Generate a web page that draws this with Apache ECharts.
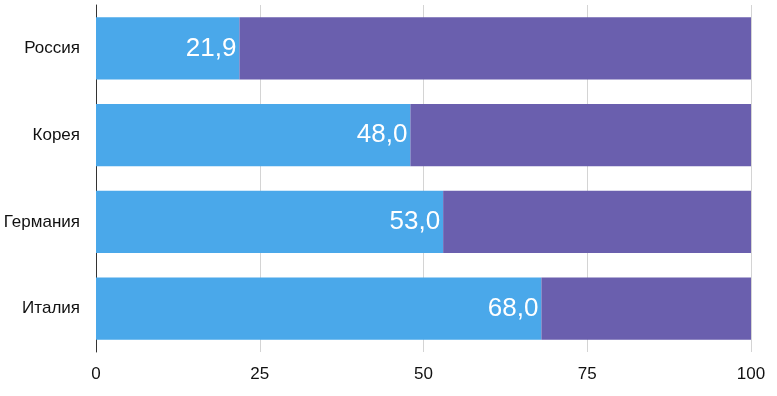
<!DOCTYPE html>
<html>
<head>
<meta charset="utf-8">
<script src="https://cdn.jsdelivr.net/npm/echarts@6/dist/echarts.min.js"></script>
<style>html,body{margin:0;padding:0;background:#fff}#c{width:777px;height:396px}</style>
</head>
<body>
<div id="c"></div>
<script>
var categories = ['Россия', 'Корея', 'Германия', 'Италия'];
var shareValues = [21.9, 48.0, 53.0, 68.0];
var totalValues = [100, 100, 100, 100];
var xTicks = [0, 25, 50, 75, 100];

var restValues = shareValues.map(function (v, i) { return +(totalValues[i] - v).toFixed(1); });

var chart = echarts.init(document.getElementById('c'));
chart.setOption({
  animation: false,
  grid: { left: 96, right: 26, top: 5, bottom: 44, containLabel: false },
  xAxis: {
    type: 'value', min: 0, max: 100, interval: 25,
    axisLine: { show: false },
    axisTick: { show: false },
    splitLine: { show: true, lineStyle: { color: '#d4d4d4', width: 1 } },
    axisLabel: {
      color: '#111', fontSize: 17, fontFamily: 'Liberation Sans, Arial, sans-serif', margin: 14,
      formatter: function (v) { return xTicks.indexOf(v) >= 0 ? String(v) : ''; }
    }
  },
  yAxis: {
    type: 'category', data: categories, inverse: true,
    axisLine: { show: true, lineStyle: { color: '#333', width: 1 } },
    axisTick: { show: false },
    axisLabel: { color: '#111', fontSize: 17, fontFamily: 'Liberation Sans, Arial, sans-serif', margin: 16 }
  },
  series: [
    {
      type: 'bar', stack: 'a', data: shareValues, barCategoryGap: '28.5%',
      itemStyle: { color: '#4aa8ea' },
      label: {
        show: true, position: 'insideRight', distance: 3, color: '#fff', fontSize: 26,
        fontFamily: 'Liberation Sans, Arial, sans-serif',
        formatter: function (p) { return p.value.toFixed(1).replace('.', ','); }
      }
    },
    {
      type: 'bar', stack: 'a', data: restValues, barCategoryGap: '28.5%',
      itemStyle: { color: '#6a5fae' }
    }
  ]
});
</script>
</body>
</html>
